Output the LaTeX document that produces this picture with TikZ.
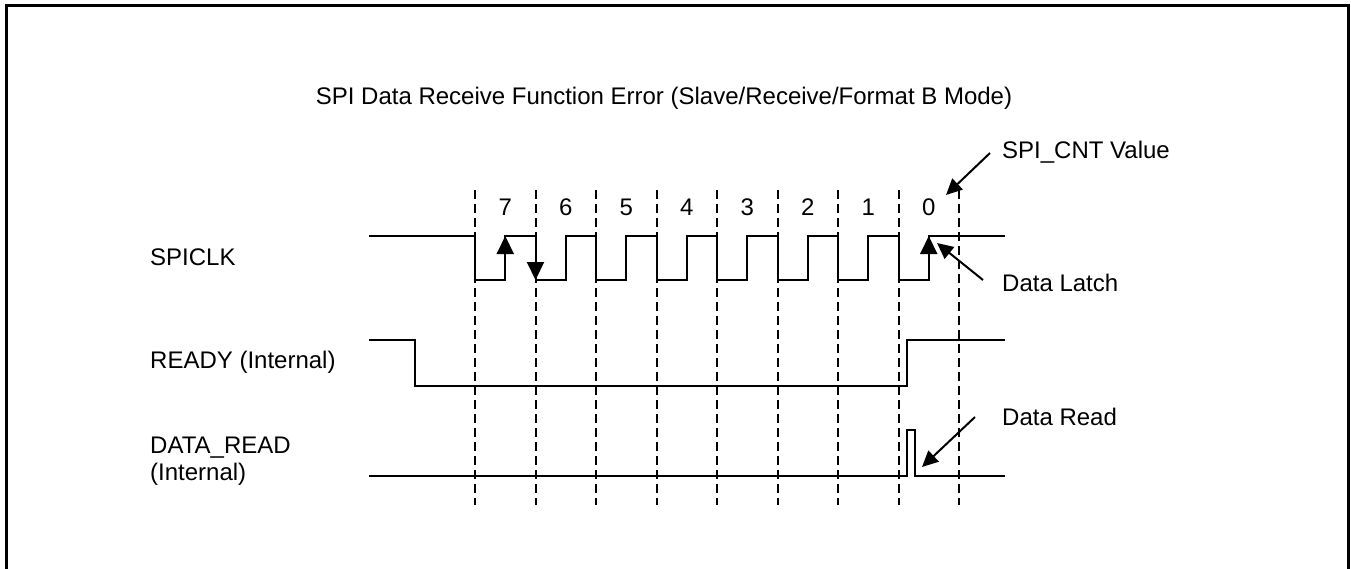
\documentclass[tikz,border=0pt]{standalone}
\usepackage{fontspec}
\setmainfont{Liberation Sans}
\usetikzlibrary{arrows.meta}
\begin{document}
\begin{tikzpicture}[x=1pt,y=-1pt,
  sig/.style={line width=2pt, line join=miter},
  gridline/.style={line width=2pt, dash pattern=on 9pt off 5pt},
  lbl/.style={font=\fontsize{24}{27}\selectfont, inner sep=0pt},
  edgetip/.style={-{Triangle[length=18pt,width=17pt]}, line width=2pt},
  pointer/.style={-{Triangle[length=16pt,width=15pt]}, line width=2pt}]
\useasboundingbox (0,0) rectangle (1351,568);
\draw[line width=3pt] (6.5,570) -- (6.5,5.5) -- (1348.5,5.5) -- (1348.5,570);
\node[lbl] (title) at (664,98) {SPI Data Receive Function Error (Slave/Receive/Format B Mode)};
% grid
\foreach \i in {0,...,8}
  \draw[gridline] (475+\i*60.5,190) -- (475+\i*60.5,505);
% bit numbers
\foreach \n [count=\i from 0] in {7,6,5,4,3,2,1,0}
  \node[lbl] (cnt\n) at (505.25+\i*60.5,207) {\n};
% signal labels
\node[lbl, anchor=west] (lclk) at (150,257) {SPICLK};
\node[lbl, anchor=west] (lready) at (150,362) {READY (Internal)};
\node[lbl, anchor=west, align=left] (lread) at (150,461) {DATA\_READ\\(Internal)};
% SPICLK
\draw[sig] (369,236) -- (475,236)
  \foreach \i in {0,...,7}{ -- (475+\i*60.5,280) -- (505.25+\i*60.5,280) -- (505.25+\i*60.5,236) -- (535.5+\i*60.5,236)}
  -- (1005,236);
% READY
\draw[sig] (369,340) -- (415,340) -- (415,386) -- (907,386) -- (907,340) -- (1005,340);
% DATA_READ
\draw[sig] (369,476) -- (907,476) -- (907,430) -- (915,430) -- (915,476) -- (1005,476);
% edge arrows on SPICLK
\coordinate (r7lo) at (505.25,280);
\coordinate (r7hi) at (505.25,236);
\coordinate (f6hi) at (535.5,236);
\coordinate (f6lo) at (535.5,280);
\coordinate (r0lo) at (928.75,280);
\coordinate (r0hi) at (928.75,236);
\draw[edgetip] (r7lo) -- (r7hi);
\draw[edgetip] (f6hi) -- (f6lo);
\draw[edgetip] (r0lo) -- (r0hi);
% annotations
\node[lbl, anchor=west] (cntv) at (1002,152) {SPI\_CNT Value};
\node[lbl, anchor=west] (latch) at (1002,283) {Data Latch};
\node[lbl, anchor=west] (dread) at (1002,417) {Data Read};
\coordinate (cntfrom) at (990,153);
\coordinate (cntto) at (946,195);
\coordinate (latchfrom) at (983,280);
\coordinate (latchto) at (937,243);
\coordinate (readfrom) at (975,417);
\coordinate (readto) at (922,467);
\draw[pointer] (cntfrom) -- (cntto);
\draw[pointer] (latchfrom) -- (latchto);
\draw[pointer] (readfrom) -- (readto);
\end{tikzpicture}
\end{document}
